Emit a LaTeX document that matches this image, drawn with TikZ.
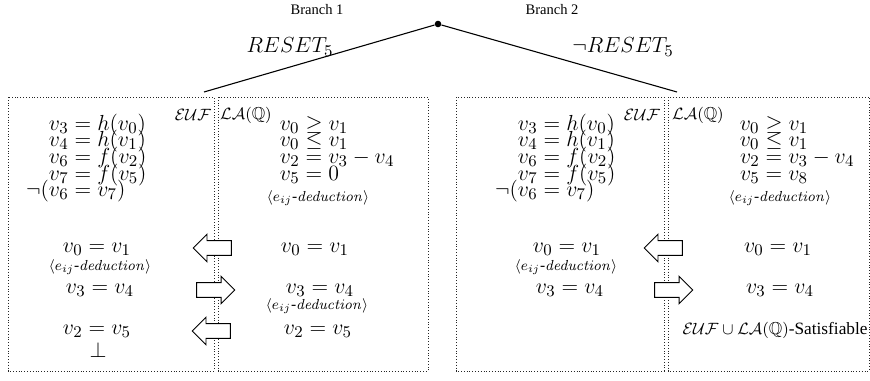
\documentclass[tikz,border=0pt]{standalone}
\usepackage[no-math]{fontspec}
\setmainfont{Liberation Serif}
\usepackage{amssymb}
\usetikzlibrary{shapes.arrows}

\newcommand{\eqrow}[3]{\makebox[3em][r]{$#1$}${}#2{}$\makebox[3em][l]{$#3$}}
\newcommand{\eij}{$\langle e_{ij}\mbox{-}\mathit{deduction}\rangle$}

\tikzset{
  dot/.style={circle, fill=black, inner sep=0pt, minimum size=3.6pt},
  branchline/.style={line width=0.6pt},
  branchlbl/.style={font=\footnotesize, inner sep=0pt},
  bigmath/.style={font=\fontsize{12.5}{15}\selectfont, inner sep=0pt},
  eq/.style={font=\fontsize{13}{15}\selectfont, inner sep=0pt, anchor=base},
  theory/.style={font=\fontsize{9.5}{11}\selectfont, inner sep=0pt},
  ded/.style={font=\fontsize{8.5}{10}\selectfont, inner sep=0pt},
  zone/.style={draw=black!85, line width=0.45pt, dash pattern=on 0.45pt off 1.1pt},
  passarrow/.style={
    single arrow, draw=black, line width=0.5pt, fill=white,
    inner xsep=0pt, inner ysep=3.8pt, minimum height=21pt, minimum width=14.8pt,
    single arrow head extend=3.5pt, single arrow tip angle=90
  },
}

\begin{document}
\begin{tikzpicture}[x=0.55pt, y=-0.55pt]
\useasboundingbox (0,0) rectangle (870,380);

% root of the case split
\node[dot] (root) at (438,24) {};
\node[branchlbl] (br1) at (317,10) {Branch 1};
\node[branchlbl] (br2) at (552,10) {Branch 2};
\node[bigmath] (resetL) at (290,47) {$RESET_5$};
\node[bigmath] (resetR) at (623,47) {$\neg RESET_5$};
\coordinate (topL) at (204,92);
\coordinate (topR) at (677,92);
\draw[branchline] (root) -- (topL);
\draw[branchline] (root) -- (topR);

% theory boxes
\draw[zone] (8,97) rectangle (214,371);
\draw[zone] (218,97) rectangle (428,371);
\draw[zone] (456,97) rectangle (664,371);
\draw[zone] (668,97) rectangle (869,371);

\node[theory] (eufL) at (193,115) {$\mathcal{EUF}$};
\node[theory] (laL)  at (246,115) {$\mathcal{LA}(\mathbb{Q})$};
\node[theory] (eufR) at (642,115) {$\mathcal{EUF}$};
\node[theory] (laR)  at (698,115) {$\mathcal{LA}(\mathbb{Q})$};

% Branch 1: EUF side
\foreach \lhs/\op/\rhs/\yy [count=\i] in {v_3/=/h(v_0)/130, v_4/=/h(v_1)/146,
    v_6/=/f(v_2)/163, v_7/=/f(v_5)/180, \neg(v_6/=/v_7)/196} {
  \node[eq] (e1\i) at (83,\yy) {\eqrow{\lhs}{\op}{\rhs}};
}
\node[eq] (e1a) at (97,252) {$v_0 = v_1$};
\node[ded] (e1d) at (100,267) {\eij};
\node[eq] (e1b) at (100,293) {$v_3 = v_4$};
\node[eq] (e1c) at (97,334) {$v_2 = v_5$};
\node[eq] (e1bot) at (98,357) {$\bot$};

% Branch 1: LA side
\foreach \lhs/\op/\rhs/\yy [count=\i] in {v_0/\geq/v_1/130, v_0/\leq/v_1/146,
    v_2/=/v_3 - v_4/163, v_5/=/0/180} {
  \node[eq] (l1\i) at (314,\yy) {\eqrow{\lhs}{\op}{\rhs}};
}
\node[ded] (l1d) at (318,198) {\eij};
\node[eq] (l1a) at (315,252) {$v_0 = v_1$};
\node[eq] (l1b) at (320,293) {$v_3 = v_4$};
\node[ded] (l1e) at (317,306) {\eij};
\node[eq] (l1c) at (318,334) {$v_2 = v_5$};

% Branch 1: equalities passed between the solvers
\node[passarrow, shape border rotate=180] (p1a) at (216,248) {};
\node[passarrow] (p1b) at (212,290) {};
\node[passarrow, shape border rotate=180] (p1c) at (215,331) {};

% Branch 2: EUF side
\foreach \lhs/\op/\rhs/\yy [count=\i] in {v_3/=/h(v_0)/130, v_4/=/h(v_1)/146,
    v_6/=/f(v_2)/163, v_7/=/f(v_5)/180, \neg(v_6/=/v_7)/196} {
  \node[eq] (e2\i) at (552,\yy) {\eqrow{\lhs}{\op}{\rhs}};
}
\node[eq] (e2a) at (567,252) {$v_0 = v_1$};
\node[ded] (e2d) at (566,267) {\eij};
\node[eq] (e2b) at (570,293) {$v_3 = v_4$};

% Branch 2: LA side
\foreach \lhs/\op/\rhs/\yy [count=\i] in {v_0/\geq/v_1/130, v_0/\leq/v_1/146,
    v_2/=/v_3 - v_4/163, v_5/=/v_8/180} {
  \node[eq] (l2\i) at (774,\yy) {\eqrow{\lhs}{\op}{\rhs}};
}
\node[ded] (l2d) at (780,198) {\eij};
\node[eq] (l2a) at (778,252) {$v_0 = v_1$};
\node[eq] (l2b) at (780,293) {$v_3 = v_4$};
\node[theory] (sat) at (775,330) {$\mathcal{EUF}\cup\mathcal{LA}(\mathbb{Q})$-Satisfiable};

% Branch 2: equalities passed between the solvers
\node[passarrow, shape border rotate=180] (p2a) at (667,248) {};
\node[passarrow] (p2b) at (670,290) {};

\end{tikzpicture}
\end{document}
